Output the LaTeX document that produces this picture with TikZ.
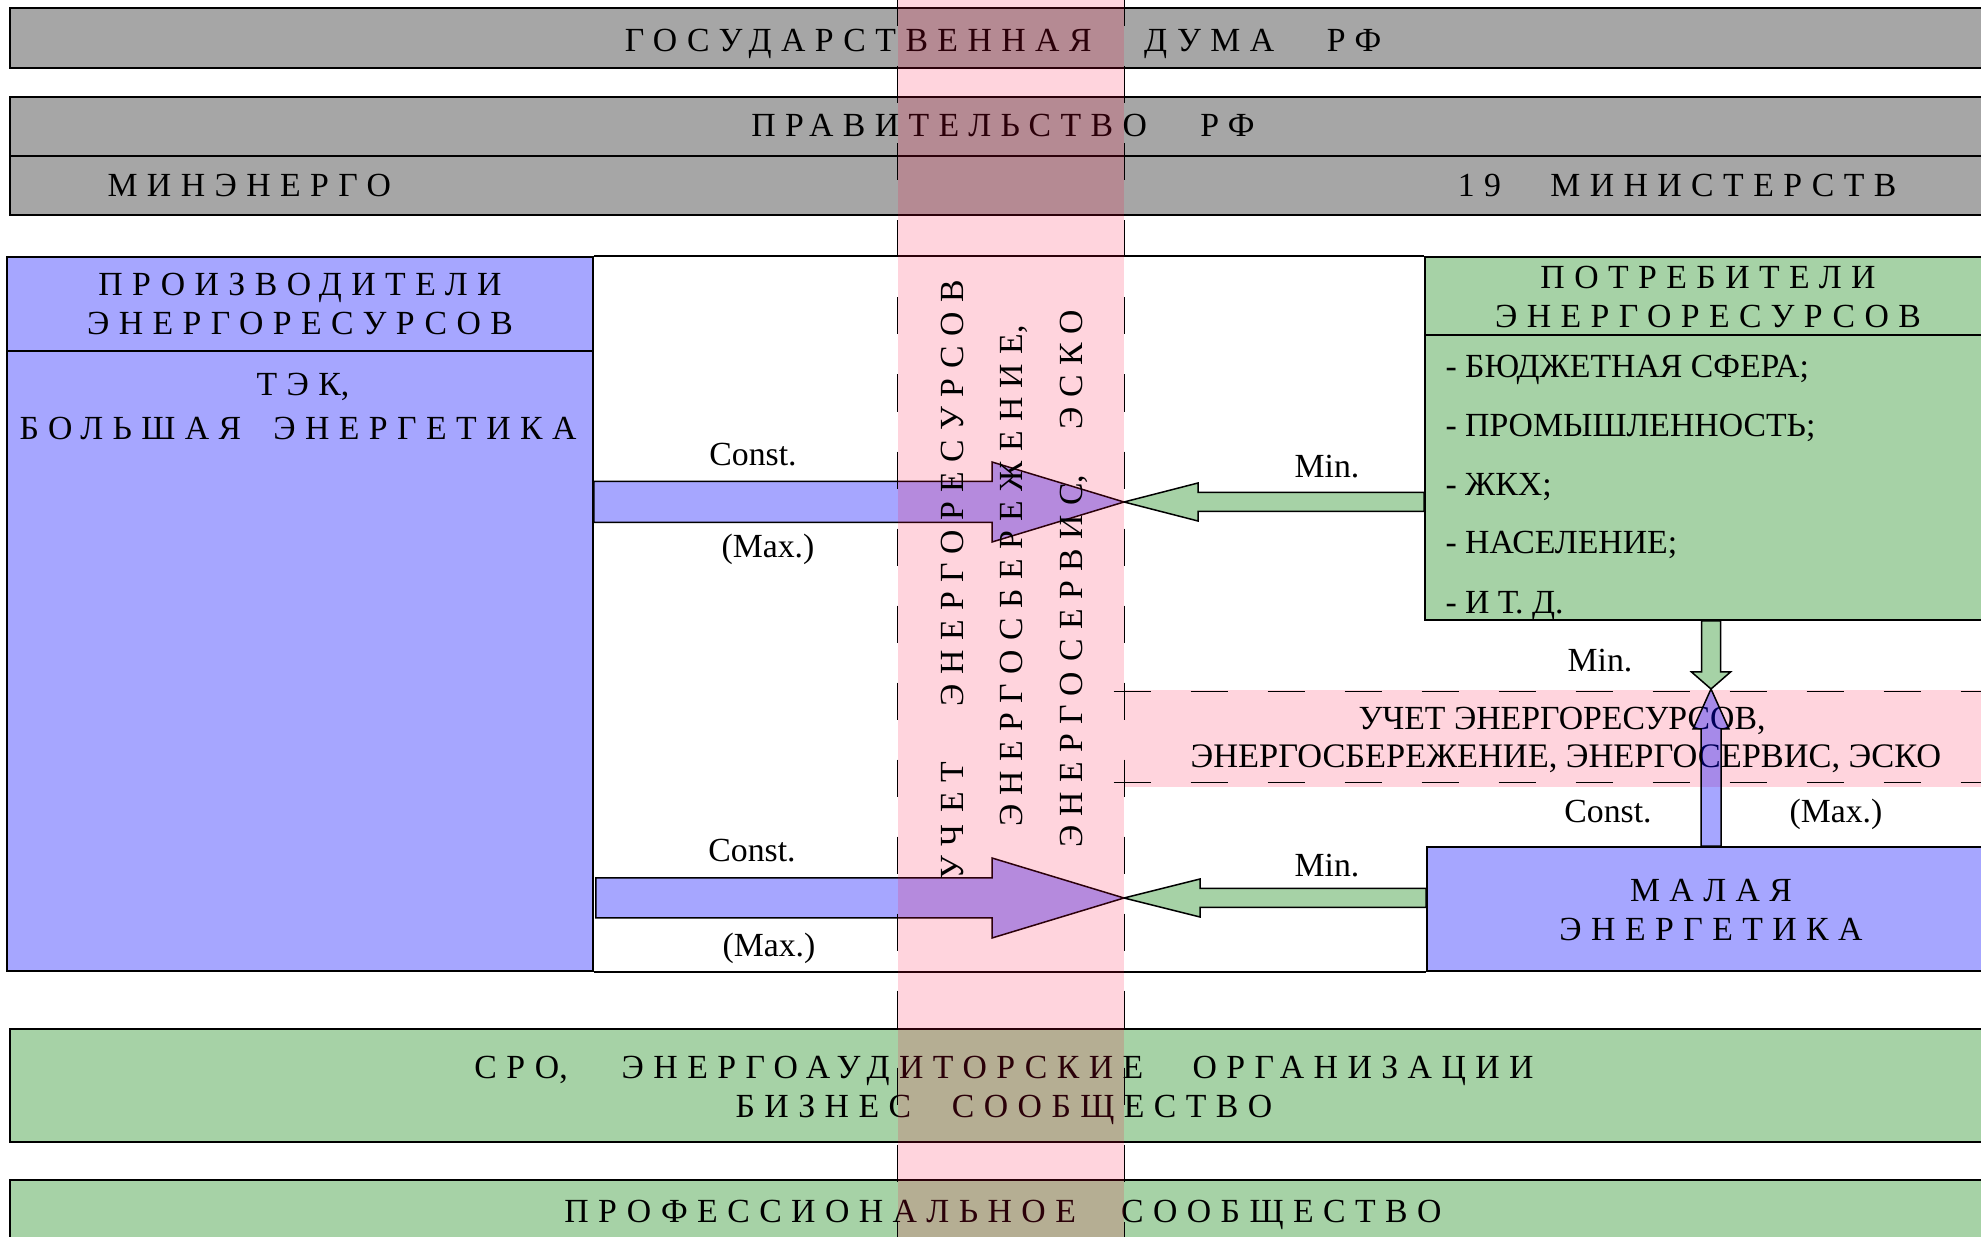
\documentclass[tikz,border=0pt]{standalone}
\usepackage{fontspec}
\setmainfont{Liberation Serif}
\newfontfamily\spacedfont[LetterSpace=28]{Liberation Serif}
\usetikzlibrary{fit,calc}
\definecolor{govgray}{RGB}{166,166,166}
\definecolor{prodblue}{RGB}{166,166,255}
\definecolor{consgreen}{RGB}{166,210,166}
\definecolor{bandpink}{RGB}{255,0,55}
\newcommand{\wgap}[1][1.05em]{\hspace{#1}}

\begin{document}
\begin{tikzpicture}[
    x=0.4pt, y=-0.4pt,
    every node/.style = {font=\fontsize{13.5}{16}\selectfont},
    panel/.style = {draw, line width=0.7pt, inner sep=0pt},
    govbox/.style = {panel, fill=govgray},
    prodbox/.style = {panel, fill=prodblue},
    consbox/.style = {panel, fill=consgreen},
    txt/.style = {inner sep=0pt, anchor=base},
    wide/.style = {txt, font=\fontsize{13.5}{16}\spacedfont},
    vert/.style = {wide, rotate=90},
    band/.style = {fill=bandpink, fill opacity=0.17, inner sep=0pt},
    bandline/.style = {line width=0.6pt, dash pattern=on 14.8pt off 16pt},
    prodarrow/.style = {draw, line width=0.6pt, fill=prodblue},
    consarrow/.style = {draw, line width=0.6pt, fill=consgreen},
    smallarrow/.style = {draw, line width=0.6pt, fill=blue, fill opacity=0.35}
  ]
  \useasboundingbox (0,0) rectangle (1981,1237);

  % government
  \node[govbox, fit={(10,8) (1998,68)}] (duma) {};
  \node[wide] (dumatxt) at (1003,52) {ГОСУДАРСТВЕННАЯ\wgap[1.56em]ДУМА\wgap[1.56em]РФ};
  \node[govbox, fit={(10,97) (1998,156)}] (prav) {};
  \node[wide] (pravtxt) at (1003,137) {ПРАВИТЕЛЬСТВО\wgap[1.58em]РФ};
  \node[govbox, fit={(10,156) (1998,215)}] (mins) {};
  \node[wide, anchor=base west] (minen) at (107,197) {МИНЭНЕРГО};
  \node[wide, anchor=base east] (mins19) at (1897,197) {19\wgap[1.46em]МИНИСТЕРСТВ};

  % producers
  \node[prodbox, fit={(7,257) (593,351)}] (prodhead) {};
  \node[wide] (prod1) at (300,296) {ПРОИЗВОДИТЕЛИ};
  \node[wide] (prod2) at (300,335) {ЭНЕРГОРЕСУРСОВ};
  \node[prodbox, fit={(7,351) (593,971)}] (prodbody) {};
  \node[wide] (tek) at (303,396) {ТЭК\kern0pt,};
  \node[wide] (bigen) at (298,440) {БОЛЬШАЯ\wgap[0.95em]ЭНЕРГЕТИКА};

  % consumers
  \node[consbox, fit={(1425,257) (1991,335)}] (conshead) {};
  \node[wide] (cons1) at (1708,289) {ПОТРЕБИТЕЛИ};
  \node[wide] (cons2) at (1708,328) {ЭНЕРГОРЕСУРСОВ};
  \node[consbox, fit={(1425,335) (1991,620)}] (consbody) {};
  \node[txt, anchor=base west] (item1) at (1445,378) {- БЮДЖЕТНАЯ СФЕРА;};
  \node[txt, anchor=base west] (item2) at (1445,437) {- ПРОМЫШЛЕННОСТЬ;};
  \node[txt, anchor=base west] (item3) at (1445,496) {- ЖКХ;};
  \node[txt, anchor=base west] (item4) at (1445,554) {- НАСЕЛЕНИЕ;};
  \node[txt, anchor=base west] (item5) at (1445,614) {- И Т. Д.};

  % small power
  \node[prodbox, fit={(1427,847) (1991,971)}] (small) {};
  \node[wide] (small1) at (1711,902) {МАЛАЯ};
  \node[wide] (small2) at (1711,941) {ЭНЕРГЕТИКА};

  % frame
  \draw[line width=0.7pt] (prodhead.north east) -- (conshead.north west);
  \draw[line width=0.7pt] (prodbody.south east) -- (small.south west);

  % community
  \node[consbox, fit={(10,1029) (1998,1142)}] (sro) {};
  \node[wide] (sro1) at (1004,1078) {СРО\kern0pt,\wgap[1.6em]ЭНЕРГОАУДИТОРСКИЕ\wgap[1.46em]ОРГАНИЗАЦИИ};
  \node[wide] (sro2) at (1004,1117) {БИЗНЕС\wgap[1.21em]СООБЩЕСТВО};
  \node[consbox, fit={(10,1180) (1998,1300)}] (prof) {};
  \node[wide] (proftxt) at (1003,1222) {ПРОФЕССИОНАЛЬНОЕ\wgap[1.34em]СООБЩЕСТВО};

  % arrow tips
  \coordinate (tipup) at (1124,502);
  \coordinate (tiplow) at (1124,898);
  \coordinate (tipsmall) at (1711,689);

  % arrows
  \draw[prodarrow] ($(prodbody.east|-tipup)+(0,-20.5)$) -| ($(tipup)+(-132,-40)$) -- (tipup) -- ($(tipup)+(-132,40)$) |- ($(prodbody.east|-tipup)+(0,20.5)$) -- cycle;
  \draw[consarrow] ($(consbody.west|-tipup)+(0,-9.5)$) -| ($(tipup)+(74,-19)$) -- (tipup) -- ($(tipup)+(74,19)$) |- ($(consbody.west|-tipup)+(0,9.5)$) -- cycle;
  \draw[prodarrow] ($(prodbody.east|-tiplow)+(2,-20)$) -| ($(tiplow)+(-132,-40)$) -- (tiplow) -- ($(tiplow)+(-132,40)$) |- ($(prodbody.east|-tiplow)+(2,20)$) -- cycle;
  \draw[consarrow] ($(small.west|-tiplow)+(0,-9.5)$) -| ($(tiplow)+(76,-19)$) -- (tiplow) -- ($(tiplow)+(76,19)$) |- ($(small.west|-tiplow)+(0,9.5)$) -- cycle;
  \draw[consarrow] ($(consbody.south-|tipsmall)+(-9.5,0)$) |- ($(tipsmall)+(-19.5,-17)$) -- (tipsmall) -- ($(tipsmall)+(19.5,-17)$) -| ($(consbody.south-|tipsmall)+(9.5,0)$) -- cycle;

  % labels
  \node[txt] (constup) at (753,466) {Const.};
  \node[txt] (maxup) at (768,558) {(Max.)};
  \node[txt] (minup) at (1327,478) {Min.};
  \node[txt] (constlow) at (752,862) {Const.};
  \node[txt] (maxlow) at (769,957) {(Max.)};
  \node[txt] (minlow) at (1327,877) {Min.};
  \node[txt] (minsmall) at (1600,672) {Min.};
  \node[txt] (constsmall) at (1608,823) {Const.};
  \node[txt] (maxsmall) at (1836,823) {(Max.)};

  % metering bands
  \node[band, fit={(898,-10) (1124,1250)}] (vband) {};
  \node[band, fit={(1124,690) (1995,787)}] (hband) {};
  \draw[bandline] (vband.north west) -- (vband.south west);
  \draw[bandline] (vband.north east) -- (vband.south east);
  \draw[bandline] ($(hband.north west)+(-10,2)$) -- ($(hband.north east)+(0,2)$);
  \draw[bandline] ($(hband.south west)+(-10,-5)$) -- ($(hband.south east)+(0,-5)$);
  \node[vert] (vb1) at (963,580) {УЧ\hspace{0.35em}ЕТ\hspace{1.65em}ЭНЕРГОРЕСУРСОВ};
  \node[vert] (vb2) at (1022,576) {ЭНЕРГОСБЕРЕЖЕНИЕ\kern0pt,};
  \node[vert] (vb3) at (1082,579) {ЭНЕРГОСЕРВИС\kern0pt,\hspace{1.35em}ЭСКО};
  \node[txt] (hb1) at (1562,730) {УЧЕТ ЭНЕРГОРЕСУРСОВ,};
  \node[txt, font=\fontsize{13.75}{16}\selectfont] (hb2) at (1566,768) {ЭНЕРГОСБЕРЕЖЕНИЕ, ЭНЕРГОСЕРВИС, ЭСКО};

  \draw[smallarrow] ($(small.north-|tipsmall)+(-10,0)$) |- ($(tipsmall)+(-18,40)$) -- (tipsmall) -- ($(tipsmall)+(18,40)$) -| ($(small.north-|tipsmall)+(10,0)$) -- cycle;
\end{tikzpicture}
\end{document}
